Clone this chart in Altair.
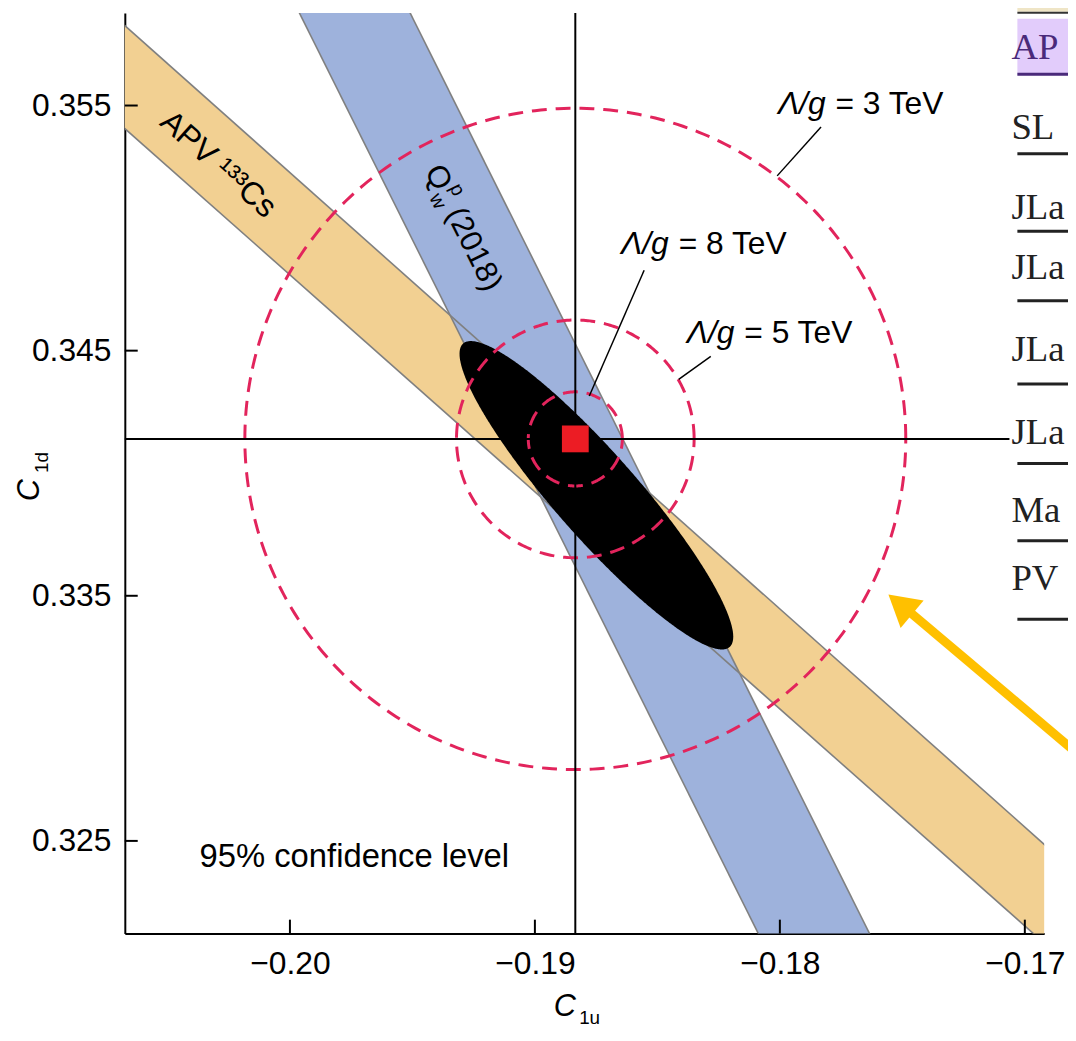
import numpy as np
import pandas as pd
import altair as alt

# ---------------- values ----------------
X_DOMAIN = [-0.20674, -0.16921]
Y_DOMAIN = [0.32122, 0.35877]
X_TICKS = [-0.20, -0.19, -0.18, -0.17]
Y_TICKS = [0.325, 0.335, 0.345, 0.355]

# Standard-model point (crosshair + red square)
SM_C1U = [-0.18835]
SM_C1D = [0.34140]

# band edges as two points each: [x0, y0, x1, y1]
APV_UPPER = [-0.20674, 0.35826, -0.16921, 0.32486]
APV_LOWER = [-0.20674, 0.35406, -0.16965, 0.32122]
QW_LEFT = [-0.19961, 0.35877, -0.18088, 0.32122]
QW_RIGHT = [-0.19509, 0.35877, -0.17634, 0.32122]

# combined 95% CL ellipse: centre, semi-axes, orientation (deg)
ELL_CENTER = [-0.18749, 0.33910]
ELL_AXES = [0.00824, 0.00170]
ELL_ANGLE = -48.7

# Lambda/g circles around the SM point
CIRCLE_NAMES = ["3 TeV", "5 TeV", "8 TeV"]
CIRCLE_RADII = [0.01349, 0.00485, 0.00192]

# circle labels and leader lines
LABEL_TEXT = ["= 3 TeV", "= 8 TeV", "= 5 TeV"]
LABEL_X = [-0.17773, -0.18413, -0.18145]
LABEL_Y = [0.35506, 0.34936, 0.34571]
LEADER_X0 = [-0.17832, -0.18554, -0.18282]
LEADER_Y0 = [0.35412, 0.34828, 0.34477]
LEADER_X1 = [-0.18011, -0.18778, -0.18413]
LEADER_Y1 = [0.35213, 0.34315, 0.34383]

APV_TEXT_POS = [-0.20292, 0.35260]
QW_TEXT_POS = [-0.19295, 0.35003]
CL_TEXT_POS = [-0.19737, 0.32432]

# fragment of the table on the right of the screenshot
TABLE_LABELS = ["AP", "SL", "JLa", "JLa", "JLa", "JLa", "Ma", "PV"]

# ---------------- layout / style ----------------
FONT = "Liberation Sans, Arial, Helvetica, sans-serif"
SERIF = "Liberation Serif, Times New Roman, serif"
ORANGE = "#F2D092"
BLUE = "#9EB2DC"
EDGE = "#808080"
CRIMSON = "#E2245C"
RED = "#EC1C24"
FS = 32  # main text size

W, H = 926.3, 927.4
OX, OY = 125.7, 9.3  # plot origin on the page
PAD = {"left": OX - 8, "top": OY - 8, "right": 1076 - 8 - (OX - 8) - W, "bottom": 1020 - (OY - 8) - H}

TABLE_TEXT_Y = [45, 125, 206, 266, 349, 432, 511, 580]
TABLE_LINE_Y = [71, 151, 229, 299, 383, 463, 541, 620]


def px(v):
    return v - OX


def py(v):
    return v - OY


xsc = alt.Scale(domain=X_DOMAIN, nice=False, zero=False)
ysc = alt.Scale(domain=Y_DOMAIN, nice=False, zero=False)

x_axis = alt.Axis(values=X_TICKS, format=".2f", title=None, ticks=False, grid=False,
                  domainColor="black", domainWidth=2, labelFont=FONT, labelFontSize=FS,
                  labelColor="black", labelPadding=15, labelFlush=False, labelOverlap=False)
y_axis = alt.Axis(values=Y_TICKS, format=".3f", title=None, ticks=False, grid=False,
                  domainColor="black", domainWidth=2, labelFont=FONT, labelFontSize=FS,
                  labelColor="black", labelPadding=14, labelFlush=False, labelOverlap=False)


def X(field="x"):
    return alt.X(f"{field}:Q", scale=xsc, axis=x_axis)


def Y(field="y"):
    return alt.Y(f"{field}:Q", scale=ysc, axis=y_axis)


def edge_y(edge, x):
    x0, y0, x1, y1 = edge
    return y0 + (y1 - y0) * (np.asarray(x) - x0) / (x1 - x0)


xs = np.array([X_DOMAIN[0] - 0.01, X_DOMAIN[1] + 0.01])

df_apv = pd.DataFrame({"x": xs, "y": edge_y(APV_UPPER, xs), "y2": edge_y(APV_LOWER, xs)})
df_qw = pd.DataFrame({"x": xs, "y": edge_y(QW_LEFT, xs), "y2": edge_y(QW_RIGHT, xs)})

edge_rows = []
for name, e in [("apv_u", APV_UPPER), ("apv_l", APV_LOWER), ("qw_l", QW_LEFT), ("qw_r", QW_RIGHT)]:
    for i, xv in enumerate(xs):
        edge_rows.append({"edge": name, "i": i, "x": xv, "y": float(edge_y(e, xv))})
df_edges = pd.DataFrame(edge_rows)

# ellipse as an area: upper and lower boundary for every x
a, b = ELL_AXES
phi = np.deg2rad(ELL_ANGLE)
c, s = np.cos(phi), np.sin(phi)
A = s ** 2 / a ** 2 + c ** 2 / b ** 2
Bc = 2 * c * s * (1 / a ** 2 - 1 / b ** 2)
Cc = c ** 2 / a ** 2 + s ** 2 / b ** 2
half = np.sqrt(a ** 2 * c ** 2 + b ** 2 * s ** 2)
t = np.linspace(0, np.pi, 301)
dx = -half * np.cos(t)
disc = np.clip((Bc * dx) ** 2 - 4 * A * (Cc * dx ** 2 - 1), 0, None)
dy1 = (-Bc * dx - np.sqrt(disc)) / (2 * A)
dy2 = (-Bc * dx + np.sqrt(disc)) / (2 * A)
df_ell = pd.DataFrame({"x": ELL_CENTER[0] + dx, "y": ELL_CENTER[1] + dy1, "y2": ELL_CENTER[1] + dy2})

# dashed circles
circ_rows = []
tt = np.linspace(0, 2 * np.pi, 361)
for name, r in zip(CIRCLE_NAMES, CIRCLE_RADII):
    for i, tv in enumerate(tt):
        circ_rows.append({"circle": name, "i": i,
                          "x": SM_C1U[0] + r * np.cos(tv), "y": SM_C1D[0] + r * np.sin(tv)})
df_circ = pd.DataFrame(circ_rows)

df_sm = pd.DataFrame({"x": SM_C1U, "y": SM_C1D})
df_lab = pd.DataFrame({"x": LABEL_X, "y": LABEL_Y, "t": LABEL_TEXT, "g": ["\u039b/g"] * 3})
df_lead = pd.DataFrame({"x": LEADER_X0, "y": LEADER_Y0, "x2": LEADER_X1, "y2": LEADER_Y1})
df_xt = pd.DataFrame({"x": X_TICKS})
df_yt = pd.DataFrame({"y": Y_TICKS})
one = pd.DataFrame({"k": [0]})

layers = []
layers.append(alt.Chart(df_apv).mark_area(color=ORANGE, opacity=1, clip=True).encode(
    x=X(), y=Y(), y2="y2:Q"))
layers.append(alt.Chart(df_qw).mark_area(color=BLUE, opacity=1, clip=True).encode(
    x=X(), y=Y(), y2="y2:Q"))
layers.append(alt.Chart(df_edges).mark_line(color=EDGE, strokeWidth=1.6, clip=True).encode(
    x=X(), y=Y(), detail="edge:N", order="i:Q"))
layers.append(alt.Chart(df_ell).mark_area(color="black", opacity=1, clip=True).encode(
    x=X(), y=Y(), y2="y2:Q"))
layers.append(alt.Chart(df_circ).mark_line(color=CRIMSON, strokeWidth=3, strokeDash=[15, 9],
                                           clip=True).encode(
    x=X(), y=Y(), detail="circle:N", order="i:Q"))
layers.append(alt.Chart(df_sm).mark_rule(color="black", strokeWidth=2).encode(x=X()))
layers.append(alt.Chart(df_sm).mark_rule(color="black", strokeWidth=2).encode(y=Y()))
layers.append(alt.Chart(df_sm).mark_square(size=729, color=RED, opacity=1).encode(x=X(), y=Y()))
layers.append(alt.Chart(df_lead).mark_rule(color="black", strokeWidth=1.5).encode(
    x=X(), y=Y(), x2="x2:Q", y2="y2:Q"))
layers.append(alt.Chart(df_lab).mark_text(font=FONT, fontSize=FS, fontStyle="italic", align="right",
                                          baseline="middle", dx=-10, color="black").encode(
    x=X(), y=Y(), text="g:N"))
layers.append(alt.Chart(df_lab).mark_text(font=FONT, fontSize=FS, align="left",
                                          baseline="middle", color="black").encode(
    x=X(), y=Y(), text="t:N"))

# band labels
df_apv_t = pd.DataFrame({"x": [APV_TEXT_POS[0]], "y": [APV_TEXT_POS[1]], "t": ["APV \u00b9\u00b3\u00b3Cs"]})
layers.append(alt.Chart(df_apv_t).mark_text(font=FONT, fontSize=FS, angle=41.7, align="center",
                                            baseline="middle", color="black").encode(
    x=X(), y=Y(), text="t:N"))
df_qw_t = pd.DataFrame({"x": [QW_TEXT_POS[0]], "y": [QW_TEXT_POS[1]]})
for txt, size, ddx, ddy in [("Q", 31, -68, 0), ("p", 20, -42, -12), ("w", 20, -42, 11), ("(2018)", 31, -20, 0)]:
    layers.append(alt.Chart(df_qw_t).mark_text(font=FONT, fontSize=size, angle=63.5, align="left",
                                               baseline="middle", dx=ddx, dy=ddy, color="black",
                                               text=txt).encode(x=X(), y=Y()))
df_cl = pd.DataFrame({"x": [CL_TEXT_POS[0]], "y": [CL_TEXT_POS[1]], "t": ["95% confidence level"]})
layers.append(alt.Chart(df_cl).mark_text(font=FONT, fontSize=33, align="center", baseline="middle",
                                         color="black").encode(x=X(), y=Y(), text="t:N"))

# inward ticks
layers.append(alt.Chart(df_xt).mark_rule(color="black", strokeWidth=2).encode(
    x=X(), y=alt.value(H), y2=alt.value(H - 14)))
layers.append(alt.Chart(df_yt).mark_rule(color="black", strokeWidth=2).encode(
    y=Y(), x=alt.value(0), x2=alt.value(13)))

# axis titles with subscripts
layers.append(alt.Chart(one).mark_text(font=FONT, fontSize=31, fontStyle="italic", text="C",
                                       align="center", baseline="middle", color="black").encode(
    x=alt.value(px(569)), y=alt.value(py(1011))))
layers.append(alt.Chart(one).mark_text(font=FONT, fontSize=19, text="1u", align="center",
                                       baseline="middle", color="black").encode(
    x=alt.value(px(594)), y=alt.value(py(1022))))
layers.append(alt.Chart(one).mark_text(font=FONT, fontSize=31, fontStyle="italic", text="C", angle=270,
                                       align="center", baseline="middle", color="black").encode(
    x=alt.value(px(30)), y=alt.value(py(490))))
layers.append(alt.Chart(one).mark_text(font=FONT, fontSize=19, text="1d", angle=270,
                                       align="center", baseline="middle", color="black").encode(
    x=alt.value(px(42)), y=alt.value(py(462))))

# ---- overlay: cropped table fragment and yellow arrow from the screenshot ----
layers.append(alt.Chart(one).mark_rect(color="white", opacity=1).encode(
    x=alt.value(px(1017)), x2=alt.value(px(1090)), y=alt.value(py(-5)), y2=alt.value(py(634))))
layers.append(alt.Chart(one).mark_rect(color="#EFE5C6", opacity=1).encode(
    x=alt.value(px(1025)), x2=alt.value(px(1090)), y=alt.value(py(-5)), y2=alt.value(py(8))))
layers.append(alt.Chart(one).mark_rule(color="#333333", strokeWidth=2).encode(
    x=alt.value(px(1025)), x2=alt.value(px(1090)), y=alt.value(py(9))))
layers.append(alt.Chart(one).mark_rect(color="#E2CCFB", opacity=1).encode(
    x=alt.value(px(1025)), x2=alt.value(px(1090)), y=alt.value(py(15)), y2=alt.value(py(72))))
df_tab = pd.DataFrame({"label": TABLE_LABELS, "ty": [py(v) for v in TABLE_TEXT_Y],
                       "ly": [py(v) for v in TABLE_LINE_Y],
                       "col": ["#4A2A7A"] + ["#222222"] * (len(TABLE_LABELS) - 1)})
layers.append(alt.Chart(df_tab).mark_rule(strokeWidth=3).encode(
    x=alt.value(px(1025)), x2=alt.value(px(1090)), y=alt.Y("ly:Q", scale=None),
    color=alt.Color("col:N", scale=None)))
layers.append(alt.Chart(df_tab).mark_text(font=SERIF, fontSize=37, align="left", baseline="middle").encode(
    x=alt.value(px(1019)), y=alt.Y("ty:Q", scale=None), text="label:N",
    color=alt.Color("col:N", scale=None)))
layers.append(alt.Chart(one).mark_rule(color="#FFC000", strokeWidth=9, strokeCap="butt").encode(
    x=alt.value(px(1085)), y=alt.value(py(755)), x2=alt.value(px(917)), y2=alt.value(py(613))))
layers.append(alt.Chart(one).mark_point(shape="triangle-up", filled=True, size=1296, angle=310,
                                        color="#FFC000", opacity=1).encode(
    x=alt.value(px(907)), y=alt.value(py(605))))

chart = alt.layer(*layers).properties(
    width=W, height=H, padding=PAD, autosize=alt.AutoSizeParams(type="none"),
    background="white",
).configure_view(stroke=None)

chart.save("out.html", embed_options={"renderer": "svg", "actions": False})
